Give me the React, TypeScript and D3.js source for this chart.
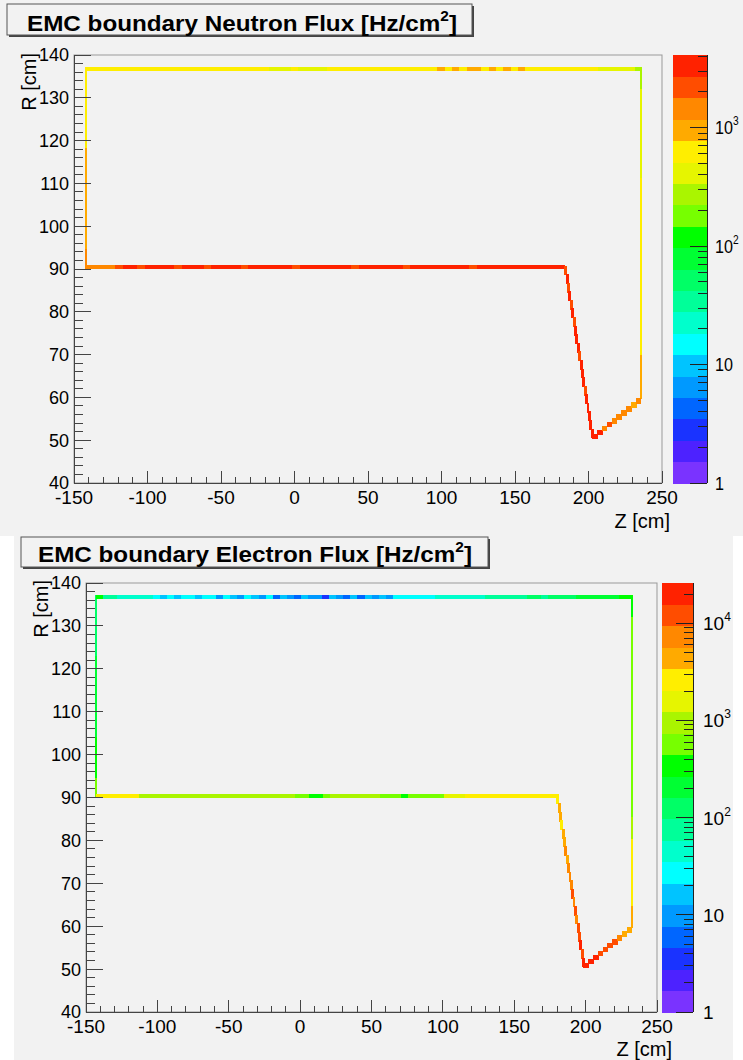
import React from 'react';
import * as d3 from 'd3';

// axis ticks (shared by both panels)
const zTicks = [-150, -100, -50, 0, 50, 100, 150, 200, 250];
const rTicks = [40, 50, 60, 70, 80, 90, 100, 110, 120, 130, 140];

// 20-level rainbow palette, bottom (low) -> top (high)
const paletteColors = [
  '#7a33ff', '#4d22ff', '#1a33ff', '#0066ff', '#0099ff',
  '#00c4ff', '#00ffff', '#00ffcc', '#00ff99', '#00ff66',
  '#00ff33', '#00ff00', '#77ff00', '#aaf500', '#e6f500',
  '#ffee00', '#ffaa00', '#ff8800', '#ff4d00', '#ff2200',
];

// ---- Neutron flux [Hz/cm2] ----
const neutronMax = 4100;
// left wall Z, inner corner Z, minimum Z, right wall Z
const neutronZ = [-142, 184, 203, 236];
// outer R, inner R, minimum R, stair top R
const neutronR = [136.7, 90.5, 50.4, 59.6];
const neutronOuter = [
  640, 620, 660, 610, 650, 630, 600, 640, 620, 660, 650, 630, 610, 640, 600, 620, 650, 630, 640, 610, 620, 600, 580, 560, 540,
  470, 500, 450, 540, 480, 430, 510, 460, 530,
  600, 620, 640, 610, 650, 630, 620, 600, 640, 660, 620, 630, 650, 610,
  820, 640, 900, 680, 950, 1000, 700, 880, 650, 920, 700, 850,
  640, 620, 650,
  630, 610, 640, 600, 620, 590, 560,
  480, 450, 430, 440, 420, 300,
];
const neutronInner = [
  1500, 1400, 1600, 1700, 2000,
  2900, 3100, 2600, 3000, 3300, 2800, 3100, 2500, 3000, 3200,
  2900, 2700, 3100, 3300, 2800, 3000, 2600, 3200, 2900, 3100,
  2800, 3300, 3000, 2700, 3100, 2900, 3200, 2800, 3000, 3300,
  2900, 2600, 3100, 3000, 2800, 3200, 2900, 3100, 2700, 3000,
  3300, 2900, 3100, 2800, 3000, 3200, 2900, 2700, 3100, 3000,
  2800, 3200, 3000, 2900, 3100, 2800, 3000, 3200, 2900, 3100,
];
const neutronLeft = [1400, 950, 900, 1000, 920, 880, 650, 620, 600, 640];
const neutronRight = [950, 900, 640, 620, 600, 610, 580, 600, 560, 540, 480, 450, 430, 460, 300];
const neutronDiag = [2400, 3000, 2300, 3200, 2600, 3100, 2200, 3300, 2800, 3000, 2500, 3400, 2900, 3200, 2600, 3300, 3000, 3500, 2900, 3600];
const neutronStair = [3600, 3000, 1600, 2400, 1500, 1700, 1400, 1300, 1100, 1200];

// ---- Electron flux [Hz/cm2] ----
const electronMax = 26000;
const electronZ = [-143, 180, 199, 232.5];
const electronR = [136.7, 90.4, 50.4, 59.6];
const electronOuter = [
  330,
  75, 65, 55, 50, 48, 45, 42,
  30, 18, 28, 16, 30, 25, 15, 28,
  25, 12, 28, 20, 9, 26, 14, 8, 22, 6, 18, 10, 5, 20, 8, 12, 4, 15, 9,
  7, 14, 5, 20, 9, 16, 11,
  24, 28, 30, 26, 32, 34,
  40, 45, 42, 48, 50, 46, 55, 60,
  65, 70, 80, 90, 85, 100, 110, 95, 120, 130, 140, 150, 170, 180,
  190, 200, 210, 230, 300, 350,
];
const electronInner = [
  2600, 2500, 2700, 2400, 2600, 2200,
  1000, 900, 850, 950, 800, 900, 1100, 850, 900, 950, 800, 900, 850, 1000, 900, 800, 950, 850, 900, 800, 950, 850, 700,
  450, 350, 400, 500,
  800, 900, 850, 950, 900, 800, 850, 700,
  500, 600, 400, 550, 650, 450, 600, 700,
  1300, 1600, 1800, 2200, 2400, 2600, 2500, 2300, 2700, 2600, 2500, 2800, 2600, 2400, 2700, 2600,
];
const electronLeft = [600, 350, 300, 260, 230, 200, 180, 150, 130, 120];
const electronRight = [5000, 2600, 2400, 2200, 800, 700, 650, 600, 620, 580, 600, 550, 600, 560, 400];
const electronDiag = [2600, 4300, 3800, 2400, 4500, 4200, 6000, 4600, 7000, 6500, 8000, 10000, 7500, 12000, 9000, 14000, 11000, 16000, 13000, 20000];
const electronStair = [20000, 17000, 16000, 12000, 14000, 9500, 11000, 7000, 5000, 4500];

const FONT = '"Liberation Sans", Arial, Helvetica, sans-serif';

type Cell = { z0: number; z1: number; r0: number; r1: number; v: number };

function buildCells(zs: number[], rs: number[], outer: number[], inner: number[], left: number[], right: number[], diag: number[], stair: number[]) {
  const [zL, zC, zM, zR] = zs;
  const [rO, rI, rM, rS] = rs;
  const hh = 0.5; // half thickness of horizontal runs (cm of R)
  const hw = 0.7; // half width of vertical runs (cm of Z)
  const cells: Cell[] = [];
  left.forEach((v, i) => {
    const d = (rO + hh - (rI - hh)) / left.length;
    cells.push({ z0: zL - hw, z1: zL + hw, r0: rI - hh + i * d, r1: rI - hh + (i + 1) * d, v });
  });
  right.forEach((v, i) => {
    const d = (rO + hh - rS) / right.length;
    cells.push({ z0: zR - hw, z1: zR + hw, r0: rS + i * d, r1: rS + (i + 1) * d, v });
  });
  outer.forEach((v, i) => {
    const d = (zR + hw - zL) / outer.length;
    cells.push({ z0: zL + i * d, z1: zL + (i + 1) * d, r0: rO - hh, r1: rO + hh, v });
  });
  inner.forEach((v, i) => {
    const d = (zC - zL) / inner.length;
    cells.push({ z0: zL + i * d, z1: zL + (i + 1) * d, r0: rI - hh, r1: rI + hh, v });
  });
  diag.forEach((v, i) => {
    const d = (rI - rM) / diag.length;
    const zm = zC + (zM - zC) * (i + 0.5) / diag.length;
    cells.push({ z0: zm - 1, z1: zm + 1, r0: rI - (i + 1) * d, r1: rI - i * d + 0.3, v });
  });
  stair.forEach((v, i) => {
    const dz = (zR - zM) / stair.length;
    const dr = (rS - rM) / stair.length;
    const rc = rM + (i + 0.5) * dr;
    cells.push({ z0: zM + i * dz - 0.5, z1: zM + (i + 1) * dz, r0: rc - 0.65, r1: rc + 0.65, v });
  });
  return cells;
}

type Layout = {
  frame: [number, number, number, number];
  palette: [number, number];
  box: [number, number, number, number];
  titleX: number; titleY: number; titleLen: number;
  rTitle: [number, number];
  zTitle: [number, number];
  palLabelX: number;
  palLabelScale: number;
};

type PanelProps = {
  layout: Layout; title: string; max: number;
  zs: number[]; rs: number[];
  outer: number[]; inner: number[]; left: number[]; right: number[]; diag: number[]; stair: number[];
};

const Panel = ({ layout, title, max, zs, rs, outer, inner, left, right, diag, stair }: PanelProps) => {
  const [fx0, fy0, fx1, fy1] = layout.frame;
  const x = d3.scaleLinear().domain([-150, 250]).range([fx0, fx1]);
  const y = d3.scaleLinear().domain([40, 140]).range([fy1, fy0]);
  const pal = d3.scaleLog().domain([1, max]).range([fy1, fy0]);
  const logMax = Math.log10(max);
  const nLev = paletteColors.length;
  const color = (v: number) => {
    const k = Math.floor((Math.log10(v) / logMax) * nLev);
    return paletteColors[Math.max(0, Math.min(nLev - 1, k))];
  };
  const cells = buildCells(zs, rs, outer, inner, left, right, diag, stair);

  const zMinor = d3.range(-150, 251, 10).filter(v => v % 50 !== 0);
  const rMinor = d3.range(40, 141, 2).filter(v => v % 10 !== 0);
  const decades = d3.range(0, Math.floor(logMax) + 1);
  const palMinor: number[] = [];
  decades.forEach(d => { for (let m = 2; m <= 9; m++) { const v = m * 10 ** d; if (v <= max) palMinor.push(v); } });
  const [px0, px1] = layout.palette;
  const [bx0, by0, bx1, by1] = layout.box;

  return (
    <g>
      {/* title box */}
      <rect x={bx0 + 2} y={by0 + 2} width={bx1 - bx0} height={by1 - by0} fill="#444" />
      <rect x={bx0} y={by0} width={bx1 - bx0} height={by1 - by0} fill="#f2f2f2" stroke="#555" strokeWidth={1} />
      <text x={layout.titleX} y={layout.titleY} fontFamily={FONT} fontWeight="bold" fontSize={22}
        textLength={layout.titleLen} lengthAdjust="spacingAndGlyphs" fill="#000">
        {title} [Hz/cm<tspan fontSize={14} dy={-10}>2</tspan><tspan dy={10}>]</tspan>
      </text>

      {/* frame */}
      <rect x={fx0} y={fy0} width={fx1 - fx0} height={fy1 - fy0} fill="#f2f2f2" stroke="#999" strokeWidth={1} />

      {/* histogram cells */}
      <g shapeRendering="crispEdges">
        {cells.map((c, i) => (
          <rect key={i} x={x(c.z0)} y={y(c.r1)} width={Math.max(1, x(c.z1) - x(c.z0))}
            height={Math.max(1, y(c.r0) - y(c.r1))} fill={color(c.v)} />
        ))}
      </g>

      {/* axes */}
      <g stroke="#444" strokeWidth={1} shapeRendering="crispEdges">
        <line x1={fx0} x2={fx1} y1={fy1} y2={fy1} />
        <line x1={fx0} x2={fx0} y1={fy0} y2={fy1} />
        {zTicks.map(t => <line key={'zM' + t} x1={x(t)} x2={x(t)} y1={fy1} y2={fy1 - 12} />)}
        {zMinor.map(t => <line key={'zm' + t} x1={x(t)} x2={x(t)} y1={fy1} y2={fy1 - 6} />)}
        {rTicks.map(t => <line key={'rM' + t} x1={fx0} x2={fx0 + 17} y1={y(t)} y2={y(t)} />)}
        {rMinor.map(t => <line key={'rm' + t} x1={fx0} x2={fx0 + 9} y1={y(t)} y2={y(t)} />)}
      </g>
      <g fontFamily={FONT} fontSize={19} fill="#000">
        {zTicks.map(t => (
          <text key={'zl' + t} x={x(t)} y={fy1 + 21} textAnchor="middle">{t}</text>
        ))}
        {rTicks.map(t => (
          <text key={'rl' + t} x={fx0 - 5} y={y(t)} dy="0.36em" textAnchor="end" fontSize={18}>{t}</text>
        ))}
        <text x={layout.zTitle[0]} y={layout.zTitle[1]} textAnchor="end" fontSize={20}>Z [cm]</text>
        <text transform={`translate(${layout.rTitle[0]},${layout.rTitle[1]}) rotate(-90)`} textAnchor="end" fontSize={20}>R [cm]</text>
      </g>

      {/* palette */}
      <g shapeRendering="crispEdges">
        {paletteColors.map((c, i) => {
          const yt = fy1 - (i + 1) * (fy1 - fy0) / nLev;
          return <rect key={'p' + i} x={px0} y={yt} width={px1 - px0} height={(fy1 - fy0) / nLev + 0.5} fill={c} />;
        })}
      </g>
      <g stroke="#222" strokeWidth={1} shapeRendering="crispEdges">
        <line x1={px1} x2={px1} y1={fy0} y2={fy1} />
        {decades.map(d => <line key={'pM' + d} x1={px1} x2={px1 - 17} y1={pal(10 ** d)} y2={pal(10 ** d)} />)}
        {palMinor.map(v => <line key={'pm' + v} x1={px1} x2={px1 - 9} y1={pal(v)} y2={pal(v)} />)}
      </g>
      <g fontFamily={FONT} fontSize={19} fill="#000">
        {decades.map(d => (
          <text key={'pl' + d}
            transform={`translate(${layout.palLabelX},${pal(10 ** d)}) scale(${layout.palLabelScale},1)`}
            dy="0.36em">
            {d === 0 ? '1' : '10'}
            {d >= 2 ? <tspan fontSize={12} dy={-9}>{d}</tspan> : null}
          </text>
        ))}
      </g>
    </g>
  );
};

const neutronLayout: Layout = {
  frame: [74, 55, 662, 483],
  palette: [673, 707],
  box: [7, 4, 472, 35],
  titleX: 27, titleY: 31, titleLen: 430,
  rTitle: [36, 53],
  zTitle: [670, 528],
  palLabelX: 715,
  palLabelScale: 0.85,
};

const electronLayout: Layout = {
  frame: [86, 583, 657, 1012],
  palette: [662, 693],
  box: [21, 537, 488, 567],
  titleX: 38, titleY: 562, titleLen: 434,
  rTitle: [48, 580],
  zTitle: [672, 1056],
  palLabelX: 703,
  palLabelScale: 1,
};

const App = () => (
  <svg width={743} height={1060} style={{ position: 'absolute', left: 0, top: 0, display: 'block' }}>
    <rect x={0} y={0} width={743} height={1060} fill="#ffffff" />
    <rect x={0} y={0} width={743} height={536} fill="#f2f2f2" />
    <rect x={14} y={536} width={719} height={524} fill="#f2f2f2" />
    <Panel layout={neutronLayout} title="EMC boundary Neutron Flux" max={neutronMax}
      zs={neutronZ} rs={neutronR} outer={neutronOuter} inner={neutronInner}
      left={neutronLeft} right={neutronRight} diag={neutronDiag} stair={neutronStair} />
    <Panel layout={electronLayout} title="EMC boundary Electron Flux" max={electronMax}
      zs={electronZ} rs={electronR} outer={electronOuter} inner={electronInner}
      left={electronLeft} right={electronRight} diag={electronDiag} stair={electronStair} />
  </svg>
);

export default App;
